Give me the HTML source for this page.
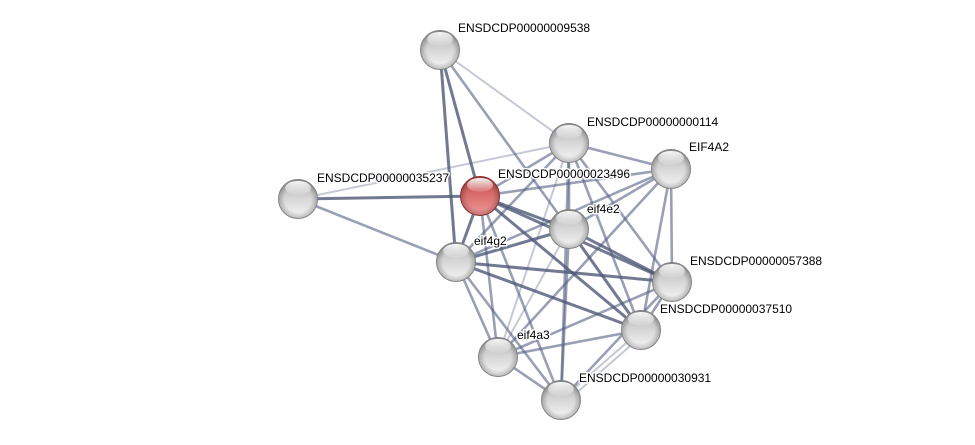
<!DOCTYPE html>
<html><head><meta charset="utf-8"><style>
html,body{margin:0;padding:0;background:#fff;width:975px;height:445px;overflow:hidden}
svg{display:block}
text{font-family:"Liberation Sans",Arial,sans-serif;font-size:12px;fill:#000;paint-order:stroke;stroke:#fff;stroke-width:3px;stroke-linejoin:round}
</style></head><body>
<svg width="975" height="445" viewBox="0 0 975 445" xmlns="http://www.w3.org/2000/svg">
<defs>
<linearGradient id="g" x1="0" y1="0" x2="0" y2="1">
<stop offset="0" stop-color="#a8a8a8"/>
<stop offset="0.45" stop-color="#d4d4d4"/>
<stop offset="1" stop-color="#f6f6f6"/>
</linearGradient>
<linearGradient id="r" x1="0" y1="0" x2="0" y2="1">
<stop offset="0" stop-color="#b84848"/>
<stop offset="0.45" stop-color="#d86a6a"/>
<stop offset="1" stop-color="#f29a9a"/>
</linearGradient>
<radialGradient id="s" cx="50%" cy="50%" r="50%">
<stop offset="0.7" stop-color="#000" stop-opacity="0"/>
<stop offset="1" stop-color="#000" stop-opacity="0.22"/>
</radialGradient>
<linearGradient id="h" x1="0" y1="0" x2="0" y2="1">
<stop offset="0" stop-color="#fff" stop-opacity="0.95"/>
<stop offset="1" stop-color="#fff" stop-opacity="0.1"/>
</linearGradient>
</defs>
<g stroke-linecap="round">
<g stroke="#5a6386" stroke-opacity="0.35" stroke-width="2">
<line x1="440" y1="50" x2="569" y2="143"/>
<line x1="298" y1="199" x2="569" y2="143"/>
<line x1="569" y1="143" x2="498" y2="357"/>
<line x1="569" y1="229" x2="498" y2="357"/>
<line x1="641" y1="330" x2="561" y2="400"/>
<line x1="645" y1="333" x2="565" y2="403"/>
</g>
<g stroke="#556084" stroke-opacity="0.6" stroke-width="2.6">
<line x1="440" y1="50" x2="569" y2="229"/>
<line x1="298" y1="199" x2="456" y2="262"/>
<line x1="480" y1="196" x2="569" y2="143"/>
<line x1="480" y1="196" x2="671" y2="169"/>
<line x1="480" y1="196" x2="498" y2="357"/>
<line x1="480" y1="196" x2="561" y2="400"/>
<line x1="569" y1="143" x2="671" y2="169"/>
<line x1="569" y1="143" x2="569" y2="229"/>
<line x1="569" y1="143" x2="456" y2="262"/>
<line x1="569" y1="143" x2="672" y2="282"/>
<line x1="569" y1="143" x2="641" y2="330"/>
<line x1="569" y1="143" x2="561" y2="400"/>
<line x1="671" y1="169" x2="569" y2="229"/>
<line x1="671" y1="169" x2="456" y2="262"/>
<line x1="671" y1="169" x2="672" y2="282"/>
<line x1="671" y1="169" x2="641" y2="330"/>
<line x1="671" y1="169" x2="498" y2="357"/>
<line x1="569" y1="229" x2="561" y2="400"/>
<line x1="456" y1="262" x2="498" y2="357"/>
<line x1="456" y1="262" x2="561" y2="400"/>
<line x1="672" y1="282" x2="641" y2="330"/>
<line x1="672" y1="282" x2="498" y2="357"/>
<line x1="672" y1="282" x2="561" y2="400"/>
<line x1="641" y1="330" x2="498" y2="357"/>
<line x1="498" y1="357" x2="561" y2="400"/>
</g>
<g stroke="#4f5878" stroke-opacity="0.8" stroke-width="3">
<line x1="440" y1="50" x2="480" y2="196"/>
<line x1="440" y1="50" x2="456" y2="262"/>
<line x1="298" y1="199" x2="480" y2="196"/>
<line x1="480" y1="196" x2="569" y2="229"/>
<line x1="480" y1="196" x2="456" y2="262"/>
<line x1="480" y1="196" x2="672" y2="282"/>
<line x1="480" y1="196" x2="641" y2="330"/>
<line x1="569" y1="229" x2="456" y2="262"/>
<line x1="569" y1="229" x2="672" y2="282"/>
<line x1="569" y1="229" x2="641" y2="330"/>
<line x1="456" y1="262" x2="672" y2="282"/>
<line x1="456" y1="262" x2="641" y2="330"/>
</g>
</g>
<g stroke="#808080" stroke-width="1">
<circle cx="440" cy="50" r="19.5" fill="url(#g)"/>
<circle cx="569" cy="143" r="19.5" fill="url(#g)"/>
<circle cx="671" cy="169" r="19.5" fill="url(#g)"/>
<circle cx="298" cy="199" r="19.5" fill="url(#g)"/>
<circle cx="480" cy="196" r="19.5" fill="url(#r)" stroke="#8a2a2a"/>
<circle cx="569" cy="229" r="19.5" fill="url(#g)"/>
<circle cx="456" cy="262" r="19.5" fill="url(#g)"/>
<circle cx="672" cy="282" r="19.5" fill="url(#g)"/>
<circle cx="641" cy="330" r="19.5" fill="url(#g)"/>
<circle cx="498" cy="357" r="19.5" fill="url(#g)"/>
<circle cx="561" cy="400" r="19.5" fill="url(#g)"/>
</g>
<g fill="url(#s)">
<circle cx="440" cy="50" r="19"/>
<circle cx="569" cy="143" r="19"/>
<circle cx="671" cy="169" r="19"/>
<circle cx="298" cy="199" r="19"/>
<circle cx="480" cy="196" r="19"/>
<circle cx="569" cy="229" r="19"/>
<circle cx="456" cy="262" r="19"/>
<circle cx="672" cy="282" r="19"/>
<circle cx="641" cy="330" r="19"/>
<circle cx="498" cy="357" r="19"/>
<circle cx="561" cy="400" r="19"/>
</g>
<g fill="url(#h)">
<ellipse cx="440" cy="39" rx="13" ry="7"/>
<ellipse cx="569" cy="132" rx="13" ry="7"/>
<ellipse cx="671" cy="158" rx="13" ry="7"/>
<ellipse cx="298" cy="188" rx="13" ry="7"/>
<ellipse cx="480" cy="185" rx="13" ry="7"/>
<ellipse cx="569" cy="218" rx="13" ry="7"/>
<ellipse cx="456" cy="251" rx="13" ry="7"/>
<ellipse cx="672" cy="271" rx="13" ry="7"/>
<ellipse cx="641" cy="319" rx="13" ry="7"/>
<ellipse cx="498" cy="346" rx="13" ry="7"/>
<ellipse cx="561" cy="389" rx="13" ry="7"/>
</g>
<text x="458" y="32">ENSDCDP00000009538</text>
<text x="587" y="126">ENSDCDP00000000114</text>
<text x="689" y="151">EIF4A2</text>
<text x="317" y="182">ENSDCDP00000035237</text>
<text x="498" y="178">ENSDCDP00000023496</text>
<text x="587" y="213">eif4e2</text>
<text x="474" y="245">eif4g2</text>
<text x="690" y="265">ENSDCDP00000057388</text>
<text x="660" y="313">ENSDCDP00000037510</text>
<text x="517" y="339">eif4a3</text>
<text x="579" y="382">ENSDCDP00000030931</text>
</svg>
</body></html>
